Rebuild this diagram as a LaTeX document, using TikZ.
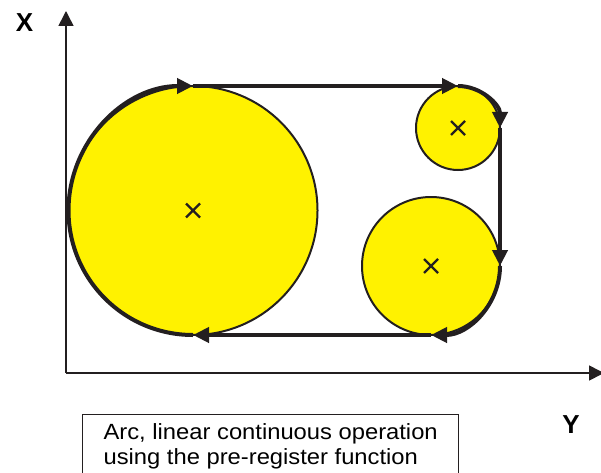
\documentclass[tikz,border=0pt]{standalone}
\usepackage{fontspec}
\setmainfont{Liberation Sans}
\newfontfamily\notefont[FakeStretch=1.08]{Liberation Sans}
\usetikzlibrary{arrows.meta}
\definecolor{PathInk}{HTML}{231F20}
\definecolor{DiskYellow}{HTML}{FFF200}

\begin{document}
\begin{tikzpicture}[x=1pt,y=1pt,
    disk/.style={fill=DiskYellow,draw=PathInk,line width=2pt},
    route/.style={draw=PathInk,line width=4pt,-{Triangle[length=16pt,width=15pt]}},
    axis/.style={draw=PathInk,line width=1.6pt,-{Triangle[length=15pt,width=15pt]}}
  ]
  \useasboundingbox (0,0) rectangle (601,472);

  % centres of the three arcs
  \coordinate (bigC) at (193,261.5);
  \coordinate (topC) at (458,344);
  \coordinate (midC) at (431,206);

  % tangent points of the route
  \coordinate (tA) at (193,386);
  \coordinate (tB) at (458,386);
  \coordinate (tC) at (500,344);
  \coordinate (tD) at (500,206);
  \coordinate (tE) at (431,137);
  \coordinate (tF) at (193,137);

  % axes
  \coordinate (origin) at (66,99);
  \coordinate (xTip) at (66,461);
  \coordinate (yTip) at (604,99);
  \draw[axis] (origin) -- (xTip);
  \draw[axis] (origin) -- (yTip);
  \node[font=\bfseries\fontsize{26}{26}\selectfont] (xLabel) at (24.5,449.5) {X};
  \node[font=\bfseries\fontsize{26}{26}\selectfont] (yLabel) at (571,47.5) {Y};

  % discs
  \path[disk] (bigC) circle[radius=124.5];
  \path[disk] (topC) circle[radius=42];
  \path[disk] (midC) circle[radius=69];

  \foreach \c in {bigC,topC,midC}
    \draw[PathInk,line width=2.4pt,shift={(\c)}]
      (-7,-7) -- (7,7) (-7,7) -- (7,-7);

  % route
  \draw[route] (tF) arc[start angle=270,end angle=90,radius=124.5];
  \draw[route] (tA) -- (tB);
  \draw[route] (tB) arc[start angle=90,end angle=0,radius=42];
  \draw[route] (tC) -- (tD);
  \draw[route] (tD) arc[start angle=0,end angle=-90,radius=69];
  \draw[route] (tE) -- (tF);

  % caption
  \node[draw=PathInk,line width=1.2pt,anchor=north west,
        inner xsep=21pt,inner ysep=9pt,align=left,
        font=\notefont\fontsize{22}{25}\selectfont] (note) at (82,58)
    {Arc, linear continuous operation\\using the pre-register function};
\end{tikzpicture}
\end{document}
